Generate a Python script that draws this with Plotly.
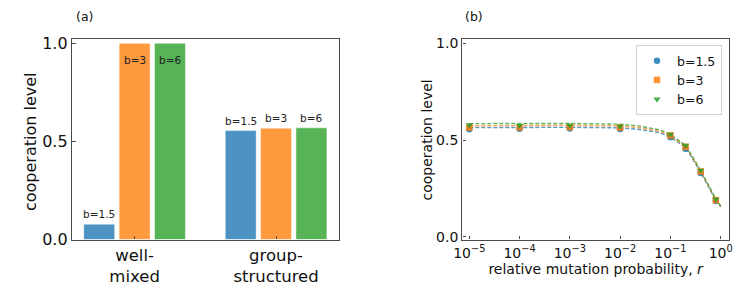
import plotly.graph_objects as go

# ---------------- data ----------------
# panel (a)
groups = ["well-<br>mixed", "group-<br>structured"]
b_labels = ["b=1.5", "b=3", "b=6"]
coop_well_mixed = [0.078, 1.0, 1.0]
coop_group_structured = [0.555, 0.567, 0.569]

# panel (b): simulation points
r_sim = [1e-5, 1e-4, 1e-3, 1e-2, 0.1, 0.2, 0.4, 0.8]
sim_b15 = [0.556, 0.558, 0.560, 0.557, 0.515, 0.455, 0.330, 0.185]
sim_b3 = [0.565, 0.566, 0.567, 0.565, 0.524, 0.465, 0.338, 0.190]
sim_b6 = [0.578, 0.575, 0.576, 0.572, 0.530, 0.472, 0.344, 0.195]

# panel (b): dashed curves
r_curve = [1e-5, 1e-4, 1e-3, 1e-2, 0.025, 0.063, 0.1, 0.2, 0.4, 0.8, 1.0]
curve_b15 = [0.564, 0.565, 0.566, 0.563, 0.555, 0.537, 0.515, 0.462, 0.334, 0.188, 0.155]
curve_b3 = [0.574, 0.575, 0.576, 0.573, 0.564, 0.545, 0.522, 0.468, 0.339, 0.192, 0.158]
curve_b6 = [0.585, 0.585, 0.586, 0.582, 0.572, 0.552, 0.529, 0.474, 0.344, 0.196, 0.161]

r_tickvals = [1e-5, 1e-4, 1e-3, 1e-2, 1e-1, 1e0]
r_ticktext = ["10<sup>−5</sup>", "10<sup>−4</sup>", "10<sup>−3</sup>",
              "10<sup>−2</sup>", "10<sup>−1</sup>", "10<sup>0</sup>"]
y_ticks = [0.0, 0.5, 1.0]

# ---------------- styles ----------------
bar_colors = ["#4c92c3", "#ff993e", "#56b356"]
line_colors = ["#1f77b4", "#ff7f0e", "#2ca02c"]
symbols = ["circle", "square", "triangle-down"]
FONT = "DejaVu Sans"
SPINE = "#4a4a4a"
W, H = 747, 294
OFF = 8  # default page margin of the html body

def px_x(p):
    return (p - OFF) / W

def px_y(p):
    return 1 - (p - OFF) / H

fig = go.Figure()

# ---------- panel (a): bars ----------
for i, lab in enumerate(b_labels):
    vals = [coop_well_mixed[i], coop_group_structured[i]]
    xs = [4 * g + i for g in range(len(groups))]
    fig.add_trace(go.Bar(
        x=xs, y=vals, width=0.875,
        marker=dict(color=bar_colors[i], line=dict(color="rgba(255,255,255,0.6)", width=0.8)),
        showlegend=False, xaxis="x", yaxis="y", hoverinfo="skip",
    ))
    for x, v in zip(xs, vals):
        inside = v > 0.9
        fig.add_annotation(
            x=x, y=v, xref="x", yref="y", text=lab, showarrow=False,
            yanchor="middle", yshift=(-17 if inside else 10),
            font=dict(family=FONT, size=10.5, color="#222"),
        )

# ---------- panel (b): curves + markers ----------
curves = [curve_b15, curve_b3, curve_b6]
sims = [sim_b15, sim_b3, sim_b6]
for i in range(3):
    fig.add_trace(go.Scatter(
        x=r_curve, y=curves[i], mode="lines",
        line=dict(color=line_colors[i], width=1.4, dash="4px,2px"),
        opacity=0.75, showlegend=False, xaxis="x2", yaxis="y2", hoverinfo="skip",
    ))
for i in range(3):
    fig.add_trace(go.Scatter(
        x=r_sim, y=sims[i], mode="markers", name=b_labels[i],
        marker=dict(color=line_colors[i], symbol=symbols[i], size=6.5,
                    line=dict(width=0)),
        opacity=0.85, xaxis="x2", yaxis="y2",
    ))

axis_common = dict(
    showline=True, linecolor=SPINE, linewidth=1.4, mirror=True,
    ticks="inside", ticklen=3.5, tickwidth=1, tickcolor=SPINE,
    showgrid=False, zeroline=False, automargin=False,
)

ydom = [px_y(239.5), px_y(39)]

fig.update_layout(
    width=W, height=H,
    margin=dict(l=0, r=0, t=0, b=0, autoexpand=False),
    plot_bgcolor="white", paper_bgcolor="white",
    font=dict(family=FONT, color="#111"),
    barmode="overlay",
    xaxis=dict(domain=[px_x(72), px_x(339)], range=[-0.77, 6.78],
               tickvals=[1, 5], ticktext=groups,
               tickfont=dict(size=16.5), anchor="y", **axis_common),
    yaxis=dict(domain=ydom, range=[0, 1.022], tickvals=y_ticks,
               ticktext=["0.0", "0.5", "1.0"], tickfont=dict(size=16),
               anchor="x", **axis_common),
    xaxis2=dict(domain=[px_x(462.3), px_x(729)], type="log",
                range=[-5.139, 0.165], tickvals=r_tickvals, ticktext=r_ticktext,
                tickfont=dict(size=14), anchor="y2",
                title=dict(text="relative mutation probability, <i>r</i>",
                           font=dict(size=14), standoff=4),
                **axis_common),
    yaxis2=dict(domain=ydom, range=[-0.0134, 1.022], tickvals=y_ticks,
                ticktext=["0.0", "0.5", "1.0"], tickfont=dict(size=14),
                anchor="x2", **axis_common),
    legend=dict(
        x=px_x(722), y=px_y(45), xanchor="right", yanchor="top",
        bgcolor="rgba(255,255,255,0.8)", bordercolor="#d0d0d0", borderwidth=1,
        font=dict(family=FONT, size=12.5, color="#111"),
        itemwidth=30, tracegroupgap=0,
    ),
)

# axis titles for y placed as rotated paper annotations
fig.add_annotation(x=px_x(30), y=px_y(142), xref="paper", yref="paper",
                   text="cooperation level", textangle=-90, showarrow=False,
                   xanchor="center", yanchor="middle",
                   font=dict(family=FONT, size=16, color="#111"))
fig.add_annotation(x=px_x(426.5), y=px_y(140), xref="paper", yref="paper",
                   text="cooperation level", textangle=-90, showarrow=False,
                   xanchor="center", yanchor="middle",
                   font=dict(family=FONT, size=14, color="#111"))

fig.add_annotation(x=px_x(74), y=px_y(16), xref="paper", yref="paper",
                   text="(a)", showarrow=False, xanchor="left", yanchor="middle",
                   font=dict(family=FONT, size=12.5, color="#111"))
fig.add_annotation(x=px_x(463), y=px_y(16.5), xref="paper", yref="paper",
                   text="(b)", showarrow=False, xanchor="left", yanchor="middle",
                   font=dict(family=FONT, size=12.5, color="#111"))

fig.write_html("out.html")
